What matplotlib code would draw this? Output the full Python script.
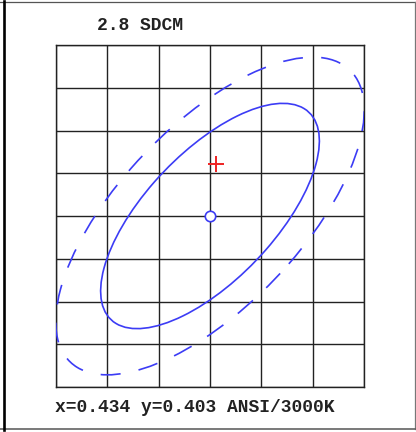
import matplotlib.pyplot as plt
import numpy as np
from matplotlib.lines import Line2D
from matplotlib.patches import Ellipse

# chromaticity window (6 x 8 cells)
x_edges = [0.428, 0.430, 0.432, 0.434, 0.436, 0.438, 0.440]
y_edges = [0.395, 0.397, 0.399, 0.401, 0.403, 0.405, 0.407, 0.409, 0.411]

# target point and ellipses (a, b, angle)
center = (0.434, 0.403)
inner = (0.00622, 0.00269, 53.9)
outer = (0.00877, 0.00380, 53.9)

# measured point
meas_x = [0.43423]
meas_y = [0.40543]

title = "2.8 SDCM"
footer = "x=0.434 y=0.403 ANSI/3000K"

blue = "#3c3cf5"
mono = ["Liberation Mono", "DejaVu Sans Mono"]

fig = plt.figure(figsize=(4.16, 4.32), dpi=100)
W, H = 416, 432
ax = fig.add_axes([56 / W, 45 / H, 308 / W, 342 / H])

ax.set_xlim(x_edges[0], x_edges[-1])
ax.set_ylim(y_edges[0], y_edges[-1])
ax.set_xticks(x_edges)
ax.set_yticks(y_edges)
ax.tick_params(length=0, labelbottom=False, labelleft=False)
ax.grid(True, color="#222222", lw=1.0)
for s in ax.spines.values():
    s.set_color("#222222")
    s.set_linewidth(1.0)

ax.add_patch(Ellipse(center, 2 * inner[0], 2 * inner[1], angle=inner[2],
                     fill=False, ec=blue, lw=1.2, zorder=3))
ax.add_patch(Ellipse(center, 2 * outer[0], 2 * outer[1], angle=outer[2],
                     fill=False, ec=blue, lw=1.2, ls=(0, (12, 11)), zorder=3))

ax.plot([center[0]], [center[1]], "o", ms=7.5, mfc="white", mec=blue,
        mew=1.2, zorder=4)
ax.plot(meas_x, meas_y, "+", ms=12, color="#ee2222", mew=1.4, zorder=4)

fig.text(140 / W, 1 - 25 / H, title, ha="center", va="center",
         fontsize=13, family=mono, weight="bold", color="#222222")
fig.text(195 / W, 1 - 408 / H, footer, ha="center", va="center",
         fontsize=13, family=mono, weight="bold", color="#222222")

# outer frame
fig.add_artist(Line2D([0, 415 / W], [1 - 2 / H, 1 - 2 / H], color="#555555", lw=0.9))
fig.add_artist(Line2D([415 / W, 415 / W], [1 - 2 / H, 1 - 429 / H], color="#777777", lw=0.9))
fig.add_artist(Line2D([0, 415 / W], [1 - 429 / H, 1 - 429 / H], color="#555555", lw=1.1))
fig.add_artist(Line2D([3.5 / W, 3.5 / W], [1 - 1 / H, 1 - 430 / H], color="black", lw=1.9))

fig.savefig("out.png", dpi=100)
